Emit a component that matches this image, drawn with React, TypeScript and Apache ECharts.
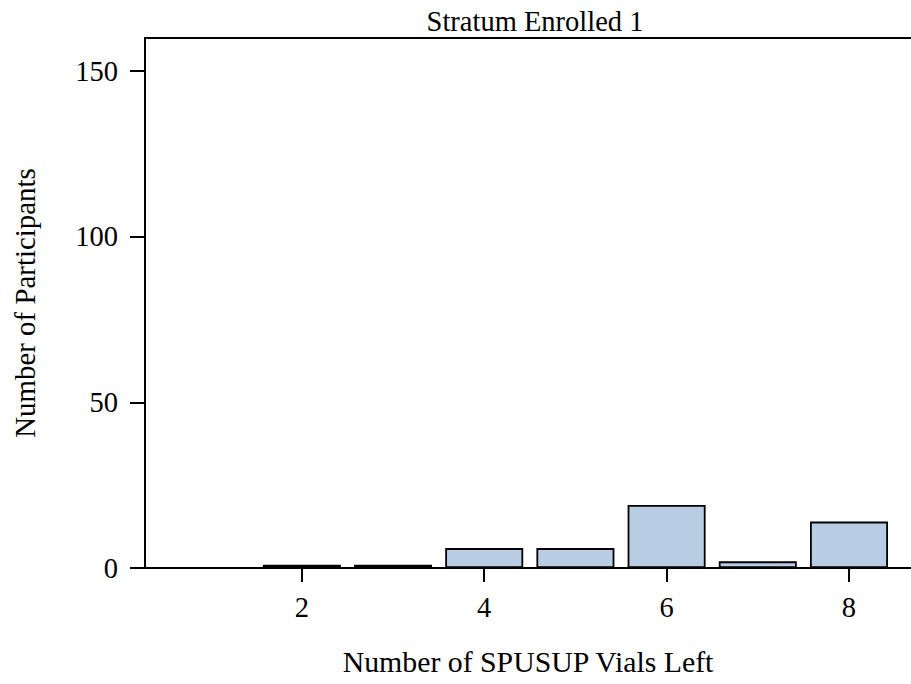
import React, { useEffect, useRef } from "react";
import * as echarts from "echarts";

const vialsLeft = [1, 2, 3, 4, 5, 6, 7, 8];
const participants = [0, 1, 1, 6, 6, 19, 2, 14];
const xTickValues = [2, 4, 6, 8];
const yTickValues = [0, 50, 100, 150];

const FONT = "'Liberation Serif', 'Times New Roman', serif";

export default function App() {
  const ref = useRef<HTMLDivElement>(null);
  useEffect(() => {
    if (!ref.current) return;
    const chart = echarts.init(ref.current, null, { renderer: "svg" });
    chart.setOption({
      animation: false,
      backgroundColor: "#ffffff",
      title: {
        text: "Stratum Enrolled 1",
        left: 530,
        textAlign: "center",
        top: 2,
        textStyle: { fontFamily: FONT, fontSize: 28.5, fontWeight: "normal", color: "#000" },
      },
      grid: { left: 145, right: 0, top: 38, bottom: 116, containLabel: false },
      xAxis: [
        {
          type: "value",
          min: 0.28,
          max: 8.68,
          position: "bottom",
          name: "Number of SPUSUP Vials Left",
          nameLocation: "middle",
          nameGap: 78,
          nameTextStyle: { fontFamily: FONT, fontSize: 29.8, color: "#000" },
          axisLine: { show: true, onZero: false, lineStyle: { color: "#000", width: 2 } },
          axisTick: { show: true, length: 14, lineStyle: { color: "#000", width: 2 }, customValues: xTickValues },
          axisLabel: { margin: 25, fontFamily: FONT, fontSize: 28.5, color: "#000", customValues: xTickValues },
          splitLine: { show: false },
        },
        {
          type: "value",
          min: 0.28,
          max: 8.68,
          position: "top",
          axisLine: { show: true, onZero: false, lineStyle: { color: "#000", width: 2 } },
          axisTick: { show: false },
          axisLabel: { show: false },
          splitLine: { show: false },
        },
      ],
      yAxis: {
        type: "value",
        min: 0,
        max: 160,
        name: "Number of Participants",
        nameLocation: "middle",
        nameGap: 106,
        nameTextStyle: { fontFamily: FONT, fontSize: 28.9, color: "#000" },
        axisLine: { show: true, onZero: false, lineStyle: { color: "#000", width: 2 } },
        axisTick: { show: true, length: 15, lineStyle: { color: "#000", width: 2 }, customValues: yTickValues },
        axisLabel: { margin: 27, fontFamily: FONT, fontSize: 28.5, color: "#000", customValues: yTickValues },
        splitLine: { show: false },
      },
      series: [
        {
          type: "bar",
          xAxisIndex: 0,
          barWidth: 78,
          data: vialsLeft.map((v, i) => [v, participants[i]]),
          itemStyle: { color: "#B8CCE4", borderColor: "#000", borderWidth: 1.8 },
        },
      ],
    });
    return () => chart.dispose();
  }, []);
  return <div ref={ref} style={{ width: 911, height: 684, position: "fixed", left: 0, top: 0 }} />;
}
